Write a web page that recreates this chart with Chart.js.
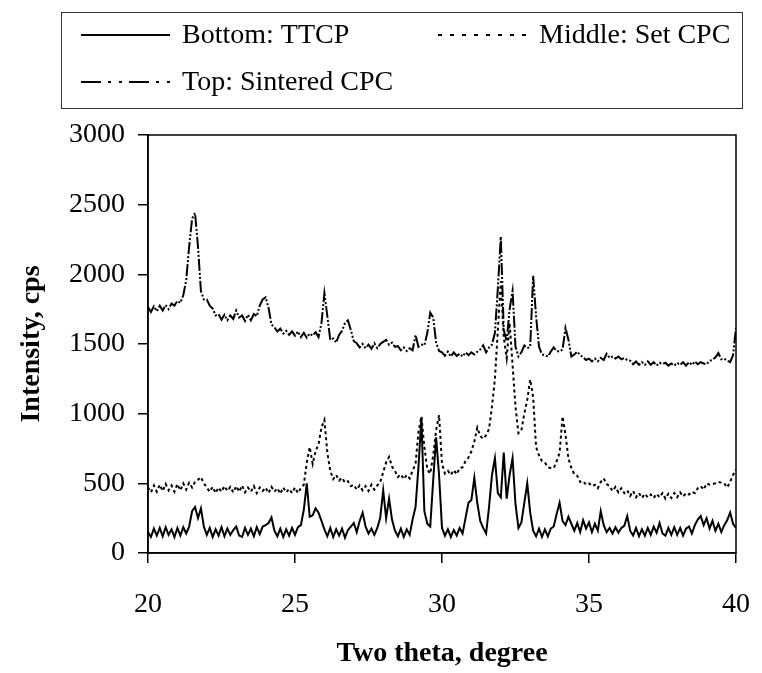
<!DOCTYPE html>
<html>
<head>
<meta charset="utf-8">
<title>XRD patterns</title>
<script src="https://cdn.jsdelivr.net/npm/chart.js@4.4.1/dist/chart.umd.min.js"></script>
<style>
  html, body { margin: 0; padding: 0; background: #fff; }
  canvas { display: block; }
</style>
</head>
<body>
<canvas id="chart" width="762" height="673"></canvas>
<script>
// scan grid: 20.0 .. 40.0 degrees, 0.1 degree step
const startAngle = 20;
const angleStep = 0.1;

const seriesLabels = ["Bottom: TTCP", "Middle: Set CPC", "Top: Sintered CPC"];

// one row per degree (10 readings)
const ttcp = [
  150, 115, 175, 125, 180, 120, 185, 130, 170, 115,
  180, 125, 185, 140, 190, 300, 330, 250, 320, 190,
  130, 180, 115, 170, 125, 185, 120, 175, 130, 165,
  190, 125, 115, 180, 130, 175, 120, 185, 135, 190,
  200, 215, 255, 160, 120, 175, 115, 170, 125, 180,
  130, 185, 200, 310, 500, 260, 270, 320, 290, 230,
  170, 120, 180, 115, 170, 125, 175, 110, 165, 190,
  215, 150, 230, 290, 190, 140, 175, 130, 180, 255,
  450, 250, 390, 240, 160, 120, 175, 115, 170, 130,
  240, 330, 620, 970, 300, 210, 190, 520, 830, 560,
  180, 125, 170, 115, 165, 125, 180, 140, 250, 360,
  380, 540, 360, 230, 180, 140, 330, 560, 680, 430,
  400, 720, 390, 560, 680, 350, 180, 220, 360, 500,
  290, 160, 120, 175, 115, 170, 120, 175, 190, 280,
  360, 230, 200, 260, 210, 160, 215, 150, 235, 175,
  220, 150, 210, 160, 300, 200, 150, 180, 140, 185,
  145, 180, 195, 265, 160, 125, 180, 120, 170, 125,
  180, 130, 190, 145, 215, 140, 125, 180, 130, 185,
  130, 180, 125, 175, 190, 140, 200, 240, 265, 200,
  250, 175, 230, 160, 210, 150, 200, 235, 290, 210,
  180
];

const setCpc = [
  470, 435, 485, 440, 490, 445, 495, 450, 485, 440,
  495, 450, 500, 455, 505, 470, 510, 525, 545, 500,
  470, 440, 475, 430, 470, 440, 480, 445, 475, 435,
  480, 440, 485, 435, 470, 440, 480, 430, 470, 445,
  470, 430, 475, 440, 465, 425, 470, 435, 460, 430,
  470, 430, 465, 490, 650, 760, 640, 730, 780, 900,
  955, 720, 590, 530, 560, 520, 540, 505, 515, 480,
  490, 455, 485, 450, 480, 445, 490, 455, 485, 510,
  580, 650, 690, 620, 590, 545, 565, 530, 560, 535,
  590, 640, 870, 980, 760, 600, 570, 700, 880, 990,
  640, 570, 590, 560, 595, 565, 610, 615, 660, 685,
  730, 800, 900, 840, 820, 845, 890, 1050, 1250, 1600,
  1950, 1550, 1400, 1650, 1350, 1050, 860, 880, 1000, 1100,
  1245, 1120, 760, 700, 660, 650, 615, 610, 610, 660,
  720, 980, 850, 680, 610, 565, 555, 510, 515, 490,
  500, 480, 490, 465, 510, 535, 495, 480, 445, 475,
  435, 465, 430, 450, 410, 445, 400, 430, 395, 425,
  400, 420, 395, 425, 400, 430, 390, 425, 395, 430,
  400, 435, 405, 430, 420, 440, 430, 465, 480, 455,
  500, 490, 495, 500, 510, 505, 500, 470, 510, 560,
  600
];

const sinteredCpc = [
  1765, 1730, 1770, 1735, 1775, 1740, 1780, 1750, 1790, 1775,
  1810, 1795, 1850, 1960, 2200, 2400, 2440, 2200, 1880, 1820,
  1820, 1775, 1755, 1705, 1715, 1675, 1710, 1670, 1705, 1680,
  1740, 1690, 1705, 1665, 1710, 1670, 1715, 1700, 1775, 1820,
  1835, 1760, 1640, 1620, 1590, 1610, 1575, 1595, 1565, 1590,
  1560, 1590, 1550, 1580, 1545, 1575, 1560, 1585, 1550, 1650,
  1865, 1700, 1530, 1540, 1510, 1565, 1595, 1650, 1670, 1600,
  1520, 1505, 1475, 1500, 1470, 1495, 1465, 1505, 1470, 1500,
  1515, 1530, 1495, 1510, 1480, 1485, 1455, 1475, 1450, 1470,
  1455, 1565, 1480, 1495, 1490, 1580, 1725, 1690, 1510, 1450,
  1440, 1415, 1445, 1410, 1440, 1415, 1430, 1410, 1440, 1420,
  1440, 1425, 1445, 1460, 1490, 1440, 1475, 1495, 1580, 1900,
  2270, 1600, 1520, 1750, 1880, 1480, 1410, 1440, 1490, 1470,
  1480, 1990, 1700, 1480, 1425, 1420, 1410, 1445, 1475, 1450,
  1445, 1460, 1615, 1530, 1410, 1425, 1445, 1420, 1405, 1385,
  1395, 1375, 1395, 1375, 1400, 1385, 1430, 1400, 1410, 1395,
  1410, 1390, 1400, 1385, 1380, 1355, 1375, 1350, 1370, 1350,
  1375, 1350, 1370, 1345, 1365, 1355, 1365, 1345, 1360, 1345,
  1365, 1350, 1370, 1345, 1370, 1350, 1375, 1355, 1370, 1360,
  1355, 1380, 1385, 1405, 1435, 1390, 1395, 1380, 1370, 1420,
  1615
];

const xTicks = [20, 25, 30, 35, 40];
const yTicks = [0, 500, 1000, 1500, 2000, 2500, 3000];

const twoTheta = ttcp.map((_, i) => +(startAngle + i * angleStep).toFixed(1));
const toPoints = (vals) => vals.map((v, i) => ({ x: twoTheta[i], y: v }));

const serif = "'Liberation Serif', 'Times New Roman', serif";
Chart.defaults.color = "#000";
Chart.defaults.font.family = serif;

// plot frame (top and right edges too)
const plotFrame = {
  id: "plotFrame",
  afterDraw(chart) {
    const { ctx, chartArea } = chart;
    ctx.save();
    ctx.strokeStyle = "#000";
    ctx.lineWidth = 1.5;
    ctx.strokeRect(chartArea.left, chartArea.top,
      chartArea.right - chartArea.left, chartArea.bottom - chartArea.top);
    ctx.restore();
  }
};

// boxed legend, two items on first row, one on the second
const boxLegend = {
  id: "boxLegend",
  afterDraw(chart, args, opts) {
    const ctx = chart.ctx;
    const b = opts.box;
    ctx.save();
    ctx.strokeStyle = "#333";
    ctx.lineWidth = 1;
    ctx.strokeRect(b.x + 0.5, b.y + 0.5, b.w, b.h);
    ctx.font = "28px " + serif;
    ctx.textBaseline = "middle";
    ctx.fillStyle = "#000";
    chart.data.datasets.forEach((ds, i) => {
      const it = opts.items[i];
      ctx.strokeStyle = "#000";
      ctx.lineWidth = 2;
      ctx.setLineDash(opts.dashes[i]);
      ctx.beginPath();
      ctx.moveTo(it.x, it.y);
      ctx.lineTo(it.x + opts.sample, it.y);
      ctx.stroke();
      ctx.setLineDash([]);
      ctx.fillText(ds.label, it.x + opts.sample + opts.gap, it.y + 1);
    });
    ctx.restore();
  }
};

const lineStyle = { borderColor: "#000", borderWidth: 2, pointRadius: 0, tension: 0, fill: false };

new Chart(document.getElementById("chart"), {
  type: "line",
  data: {
    datasets: [
      { ...lineStyle, label: seriesLabels[0], data: toPoints(ttcp) },
      { ...lineStyle, label: seriesLabels[1], data: toPoints(setCpc), borderDash: [3, 3] },
      { ...lineStyle, label: seriesLabels[2], data: toPoints(sinteredCpc), borderDash: [12, 2, 2, 2, 2, 2] },
    ],
  },
  options: {
    responsive: false,
    animation: false,
    layout: { padding: { top: 135, right: 26, left: 0, bottom: 0 } },
    plugins: {
      legend: { display: false },
      tooltip: { enabled: false },
      boxLegend: {
        box: { x: 61, y: 12, w: 681, h: 96 },
        sample: 89,
        gap: 12,
        items: [{ x: 81, y: 35 }, { x: 438, y: 35 }, { x: 81, y: 82 }],
        dashes: [[], [4, 8], [20, 7, 3, 8, 3, 7]],
      },
    },
    scales: {
      x: {
        type: "linear",
        min: 20,
        max: 40,
        afterBuildTicks: (s) => { s.ticks = xTicks.map((v) => ({ value: v })); },
        afterFit: (s) => { s.height = 120; s.paddingLeft = 0; s.paddingRight = 0; },
        ticks: { font: { size: 28 }, padding: 25, maxRotation: 0 },
        grid: { drawOnChartArea: false, tickLength: 10, color: "#000", lineWidth: 1.5 },
        border: { color: "#000", width: 1.5 },
        title: {
          display: true,
          text: "Two theta, degree",
          font: { size: 28, weight: "bold" },
          padding: { top: 0, bottom: 2 },
        },
      },
      y: {
        min: 0,
        max: 3000,
        afterBuildTicks: (s) => { s.ticks = yTicks.map((v) => ({ value: v })); },
        afterFit: (s) => { s.width = 148; },
        ticks: { font: { size: 28 }, padding: 13, callback: (v) => String(v) },
        grid: { drawOnChartArea: false, tickLength: 10, color: "#000", lineWidth: 1.5 },
        border: { color: "#000", width: 1.5 },
        title: {
          display: true,
          text: "Intensity, cps",
          font: { size: 28, weight: "bold" },
          padding: { top: 15, bottom: 0 },
        },
      },
    },
  },
  plugins: [plotFrame, boxLegend],
});
</script>
</body>
</html>
